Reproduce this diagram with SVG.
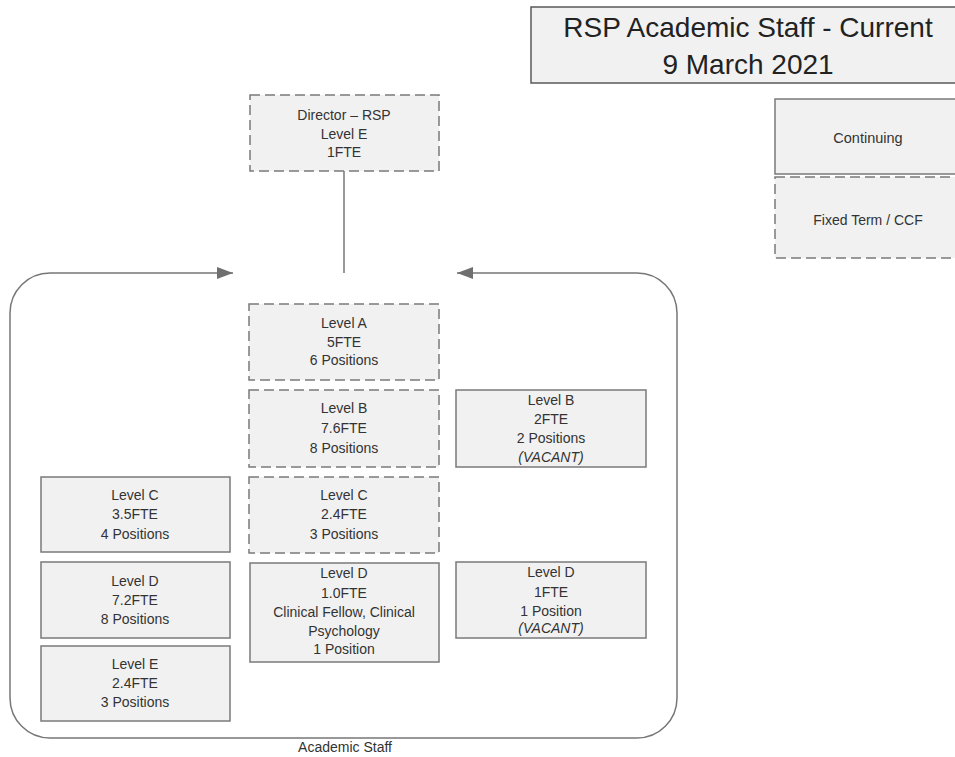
<svg xmlns="http://www.w3.org/2000/svg" width="955" height="757" viewBox="0 0 955 757">
<style>
.box{fill:#f1f1f1;stroke:#7a7a7a;stroke-width:1.5}
.dash{stroke-dasharray:10,5}
.t{font-family:"Liberation Sans",Arial,sans-serif;font-size:14px;fill:#333;text-anchor:middle}
.i{font-style:italic}
.title{font-family:"Liberation Sans",Arial,sans-serif;font-size:28px;fill:#222;text-anchor:middle}
.conn{fill:none;stroke:#777;stroke-width:1.5}
</style>
<defs>
<marker id="arr" viewBox="0 0 16 12" refX="16" refY="6" markerWidth="16" markerHeight="12" markerUnits="userSpaceOnUse" orient="auto-start-reverse">
<path d="M0,0 L16,6 L0,12 Z" fill="#6f6f6f"/>
</marker>
</defs>
<rect width="955" height="757" fill="#ffffff"/>

<g id="title">
<rect class="box" x="531" y="7" width="430" height="76" style="stroke:#5a5a5a"/>
<text class="title" x="748" y="37">RSP Academic Staff - Current</text>
<text class="title" x="748" y="74">9 March 2021</text>
</g>

<g id="legend-continuing">
<rect class="box" x="775" y="99" width="190" height="75"/>
<text class="t" x="868" y="143" style="font-size:14.5px">Continuing</text>
</g>
<g id="legend-fixed">
<rect class="box dash" x="775" y="177" width="190" height="81"/>
<text class="t" x="868" y="225">Fixed Term / CCF</text>
</g>

<g id="connectors">
<line class="conn" x1="344" y1="171" x2="344" y2="273"/>
<path class="conn" marker-start="url(#arr)" marker-end="url(#arr)" d="M457,273 L637,273 A40,40 0 0 1 677,313 L677,698 A40,40 0 0 1 637,738 L50,738 A40,40 0 0 1 10,698 L10,313 A40,40 0 0 1 50,273 L233,273"/>
<text class="t" x="345" y="752">Academic Staff</text>
</g>

<g id="director">
<rect class="box dash" x="250" y="95" width="189" height="76"/>
<text class="t" x="344" y="120">Director – RSP</text>
<text class="t" x="344" y="139">Level E</text>
<text class="t" x="344" y="157">1FTE</text>
</g>

<g id="levelA-fixed">
<rect class="box dash" x="249" y="304" width="190" height="76"/>
<text class="t" x="344" y="328">Level A</text>
<text class="t" x="344" y="347">5FTE</text>
<text class="t" x="344" y="365">6 Positions</text>
</g>

<g id="levelB-fixed">
<rect class="box dash" x="249" y="390" width="190" height="77"/>
<text class="t" x="344" y="413">Level B</text>
<text class="t" x="344" y="433">7.6FTE</text>
<text class="t" x="344" y="453">8 Positions</text>
</g>

<g id="levelC-fixed">
<rect class="box dash" x="249" y="477" width="190" height="76"/>
<text class="t" x="344" y="500">Level C</text>
<text class="t" x="344" y="519">2.4FTE</text>
<text class="t" x="344" y="539">3 Positions</text>
</g>

<g id="levelD-fixed">
<rect class="box" x="250" y="563" width="189" height="99"/>
<text class="t" x="344" y="578">Level D</text>
<text class="t" x="344" y="598">1.0FTE</text>
<text class="t" x="344" y="617">Clinical Fellow, Clinical</text>
<text class="t" x="344" y="636">Psychology</text>
<text class="t" x="344" y="654">1 Position</text>
</g>

<g id="levelC-cont">
<rect class="box" x="41" y="477" width="189" height="75"/>
<text class="t" x="135" y="500">Level C</text>
<text class="t" x="135" y="519">3.5FTE</text>
<text class="t" x="135" y="539">4 Positions</text>
</g>

<g id="levelD-cont">
<rect class="box" x="41" y="562" width="189" height="76"/>
<text class="t" x="135" y="586">Level D</text>
<text class="t" x="135" y="605">7.2FTE</text>
<text class="t" x="135" y="624">8 Positions</text>
</g>

<g id="levelE-cont">
<rect class="box" x="41" y="646" width="189" height="75"/>
<text class="t" x="135" y="669">Level E</text>
<text class="t" x="135" y="688">2.4FTE</text>
<text class="t" x="135" y="707">3 Positions</text>
</g>

<g id="levelB-vacant">
<rect class="box" x="456" y="390" width="190" height="77"/>
<text class="t" x="551" y="405">Level B</text>
<text class="t" x="551" y="424">2FTE</text>
<text class="t" x="551" y="443">2 Positions</text>
<text class="t i" x="551" y="462">(VACANT)</text>
</g>

<g id="levelD-vacant">
<rect class="box" x="456" y="562" width="190" height="76"/>
<text class="t" x="551" y="577">Level D</text>
<text class="t" x="551" y="597">1FTE</text>
<text class="t" x="551" y="616">1 Position</text>
<text class="t i" x="551" y="633">(VACANT)</text>
</g>
</svg>
